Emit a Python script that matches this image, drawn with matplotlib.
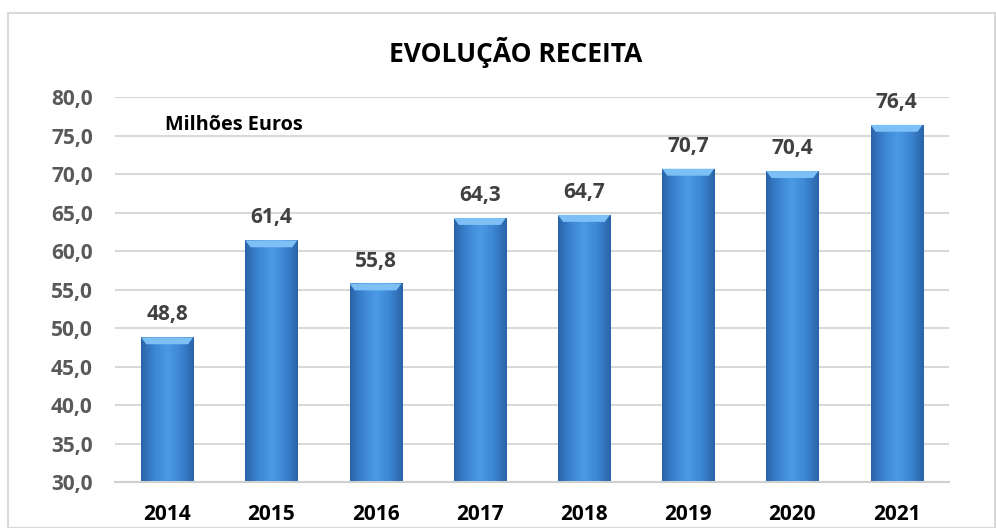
import matplotlib.pyplot as plt
import numpy as np
from matplotlib.patches import Rectangle
from matplotlib.colors import LinearSegmentedColormap

years = ["2014", "2015", "2016", "2017", "2018", "2019", "2020", "2021"]
receita = [48.8, 61.4, 55.8, 64.3, 64.7, 70.7, 70.4, 76.4]
y_ticks = [30, 35, 40, 45, 50, 55, 60, 65, 70, 75, 80]

plt.rcParams['font.family'] = ['Open Sans', 'DejaVu Sans']

fig = plt.figure(figsize=(9.96, 5.28), dpi=100)
ax = fig.add_axes([0.1155, 0.087, 0.837, 0.729])

# horizontal gradient for the bevelled bars
cmap = LinearSegmentedColormap.from_list(
    "bar", ["#2a64a8", "#3d86d4", "#4b9ae6", "#3d86d4", "#2a64a8"])
grad = np.linspace(0, 1, 64).reshape(1, -1)
width = 0.5
x = np.arange(len(years))

ax.set_xlim(-0.5, len(years) - 0.5)
ax.set_ylim(30, 80)

for xi, v in zip(x, receita):
    left = xi - width / 2
    bar = Rectangle((left, 30), width, v - 30, facecolor="none", edgecolor="none")
    ax.add_patch(bar)
    im = ax.imshow(grad, extent=(left, left + width, 30, v), aspect="auto",
                   cmap=cmap, zorder=2)
    im.set_clip_path(bar)
    # light top bevel
    ax.fill([left, left + width, left + width * 0.9, left + width * 0.1],
            [v, v, v - 0.9, v - 0.9], color="#7cc0f5", zorder=3, lw=0)
    ax.text(xi, v + 2.2, f"{v:.1f}".replace(".", ","), ha="center", va="baseline",
            fontsize=15, fontweight="bold", color="#404040")

ax.set_yticks(y_ticks)
ax.set_yticklabels([f"{t:.1f}".replace(".", ",") for t in y_ticks],
                   fontsize=15, fontweight="bold", color="#595959")
ax.set_xticks(x)
ax.set_xticklabels(years, fontsize=15, fontweight="bold", color="black")
ax.tick_params(length=0, axis="y", pad=16)
ax.tick_params(length=0, axis="x", pad=16)
ax.grid(axis="y", color="#d9d9d9", lw=1.5, zorder=0)
ax.set_axisbelow(True)
for s in ["top", "right", "left"]:
    ax.spines[s].set_visible(False)
ax.spines["bottom"].set_color("#d0d0d0")
ax.spines["bottom"].set_linewidth(1.5)

fig.text(0.518, 0.8826, "EVOLUÇÃO RECEITA", ha="center", va="baseline",
         fontsize=19, fontweight="bold", color="black")
fig.text(0.166, 0.754, "Milhões Euros", ha="left", va="baseline",
         fontsize=14.3, fontweight="bold", color="black")

fig.patches.append(Rectangle((8 / 996, 0), 1 - 9 / 996, 1 - 13 / 528,
                             transform=fig.transFigure, fill=False,
                             edgecolor="#d9d9d9", lw=1.5))

fig.savefig("out.png", dpi=100)
